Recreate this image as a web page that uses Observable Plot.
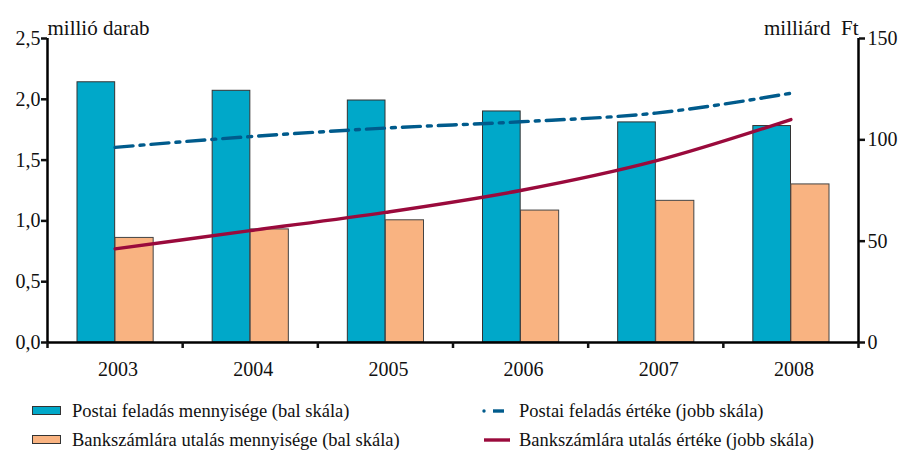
<!DOCTYPE html>
<html>
<head>
<meta charset="utf-8">
<script src="https://cdn.jsdelivr.net/npm/d3@7"></script>
<script src="https://cdn.jsdelivr.net/npm/@observablehq/plot@0.6"></script>
<style>
  html, body { margin: 0; padding: 0; background: #fff; }
  body { width: 906px; height: 452px; overflow: hidden; font-family: 'Liberation Serif', serif; }
  #chart svg { display: block; }
  .legend { position: relative; height: 67px; font-family: 'Liberation Serif', serif; font-size: 18.5px; color: #111; }
  .item { position: absolute; display: flex; align-items: center; height: 22px; line-height: 22px; white-space: nowrap; font-family: 'Liberation Serif', serif; }
  .item svg { display: block; }
</style>
</head>
<body>
<div id="chart"></div>
<div class="legend" id="legend"></div>
<script>
const years = [2003, 2004, 2005, 2006, 2007, 2008];
const postaiDb = [2.14, 2.07, 1.99, 1.90, 1.81, 1.78];        // millió darab
const bankDb = [0.86, 0.93, 1.005, 1.085, 1.165, 1.30];        // millió darab
const postaiFt = [96.3, 101.6, 105.8, 108.9, 113.2, 123.0];    // milliárd Ft
const bankFt = [46.2, 55.2, 64.2, 75.0, 89.6, 110.0];          // milliárd Ft
const leftTicks = [0, 0.5, 1, 1.5, 2, 2.5];
const rightTicks = [0, 50, 100, 150];
const leftLabel = "millió darab";
const rightLabel = "milliárd  Ft";
const seriesNames = [
  "Postai feladás mennyisége (bal skála)",
  "Bankszámlára utalás mennyisége (bal skála)",
  "Postai feladás értéke (jobb skála)",
  "Bankszámlára utalás értéke (jobb skála)"
];

const blue = "#00a8c9", orange = "#f9b381", navy = "#005b8c", crimson = "#9a0a3c";
const ratio = 150 / 2.5; // right scale to left scale

const rows = years.map((y, i) => ({year: y, pd: postaiDb[i], bd: bankDb[i], pf: postaiFt[i], bf: bankFt[i]}));
const bounds = d3.range(years.length + 1).map(i => years[0] - 0.5 + i);

const ff = "'Liberation Serif', serif";
const fs = 20;
const plot = Plot.plot({
  width: 906,
  height: 385,
  marginLeft: 47,
  marginRight: 48,
  marginTop: 38,
  marginBottom: 43,
  style: `font-family: ${ff}; font-size: ${fs}px; color: #111; background: #fff; overflow: visible;`,
  x: {type: "linear", domain: [years[0] - 0.5, years[years.length - 1] + 0.5]},
  y: {domain: [0, 2.5]},
  marks: [
    Plot.rectY(rows, {x1: d => d.year - 0.5, x2: d => d.year + 0.5, y: "pd", fill: blue, stroke: "#333", strokeWidth: 1, insetLeft: 30, insetRight: 67.5}),
    Plot.rectY(rows, {x1: d => d.year - 0.5, x2: d => d.year + 0.5, y: "bd", fill: orange, stroke: "#444", strokeWidth: 1, insetLeft: 68, insetRight: 29}),
    Plot.line(rows, {x: "year", y: d => d.pf / ratio, stroke: navy, strokeWidth: 3.4, strokeDasharray: "18,7,4,7", curve: "monotone-x"}),
    Plot.line(rows, {x: "year", y: d => d.bf / ratio, stroke: crimson, strokeWidth: 3.4, curve: "monotone-x"}),
    Plot.ruleY([0], {stroke: "#000", strokeWidth: 2.5}),
    Plot.ruleX([bounds[0], bounds[bounds.length - 1]], {stroke: "#000", strokeWidth: 2.5}),
    Plot.axisY({ticks: leftTicks, tickFormat: d => d.toFixed(1).replace(".", ","), tickSize: 6, tickPadding: 1, label: null, strokeWidth: 2.5, fontFamily: ff, fontSize: fs}),
    Plot.axisY({anchor: "right", ticks: rightTicks.map(v => v / ratio), tickFormat: d => String(Math.round(d * ratio)), tickSize: 6, tickPadding: 3, label: null, strokeWidth: 2.5, fontFamily: ff, fontSize: fs}),
    Plot.axisX({ticks: bounds, tickFormat: () => "", tickSize: 6, strokeWidth: 2.5, label: null}),
    Plot.axisX({ticks: years, tickFormat: d => String(d), tickSize: 0, tickPadding: 19, dx: 3, label: null, fontFamily: ff, fontSize: fs}),
    Plot.text([leftLabel], {x: bounds[0], y: leftTicks[leftTicks.length - 1], textAnchor: "start", lineAnchor: "bottom", dy: -4, fontSize: 21, fontFamily: ff}),
    Plot.text([rightLabel], {x: bounds[bounds.length - 1], y: leftTicks[leftTicks.length - 1], textAnchor: "end", lineAnchor: "bottom", dy: -4, fontSize: 21, fontFamily: ff})
  ]
});
document.getElementById("chart").appendChild(plot);

const legend = document.getElementById("legend");
const items = [
  {name: seriesNames[0], left: 32, center: 26, type: "box", color: blue},
  {name: seriesNames[1], left: 32, center: 55, type: "box", color: orange},
  {name: seriesNames[2], left: 482, center: 26, type: "dash", color: navy},
  {name: seriesNames[3], left: 482, center: 55, type: "line", color: crimson}
];
for (const it of items) {
  const div = document.createElement("div");
  div.className = "item";
  div.style.left = it.left + "px";
  div.style.top = (it.center - 11) + "px";
  const sw = document.createElementNS("http://www.w3.org/2000/svg", "svg");
  sw.setAttribute("width", it.type === "box" ? 40 : 37);
  sw.setAttribute("height", 12);
  const s = d3.select(sw);
  if (it.type === "box") {
    s.append("rect").attr("x", 0.5).attr("y", 1.5).attr("width", 28).attr("height", 8).attr("fill", it.color).attr("stroke", "#333");
  } else if (it.type === "dash") {
    s.append("circle").attr("cx", 2).attr("cy", 6).attr("r", 1.7).attr("fill", it.color);
    s.append("line").attr("x1", 11).attr("x2", 22).attr("y1", 6).attr("y2", 6).attr("stroke", it.color).attr("stroke-width", 3.4);
  } else {
    s.append("line").attr("x1", 2).attr("x2", 28).attr("y1", 6).attr("y2", 6).attr("stroke", it.color).attr("stroke-width", 3.4);
  }
  div.appendChild(sw);
  const t = document.createElement("span");
  t.textContent = it.name;
  div.appendChild(t);
  legend.appendChild(div);
}
</script>
</body>
</html>
